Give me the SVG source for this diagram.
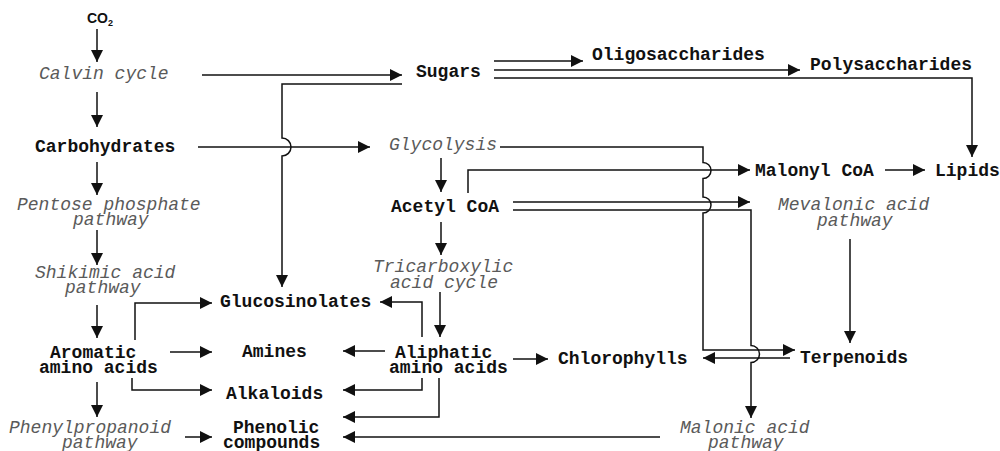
<svg xmlns="http://www.w3.org/2000/svg" width="1000" height="451" viewBox="0 0 1000 451">
<style>
.b{font-family:"Liberation Mono","Courier New",monospace;font-weight:bold;font-size:18px;fill:#111}
.i{font-family:"Liberation Mono","Courier New",monospace;font-style:italic;font-size:18px;fill:#5a5a5a}
.s{font-family:"Liberation Sans",Arial,sans-serif;font-weight:bold;font-size:14px;fill:#111}
.c path{fill:none;stroke:#111;stroke-width:1.5;marker-end:url(#ah)}
</style>
<defs>
<marker id="ah" markerUnits="userSpaceOnUse" markerWidth="13" markerHeight="12" refX="12" refY="6" orient="auto">
<path d="M0,0 L12,6 L0,12 z" fill="#111"/>
</marker>
</defs>
<rect width="1000" height="451" fill="#fff"/>
<g class="c" id="connectors">
<path d="M97,29 V62"/>
<path d="M97,92 V127"/>
<path d="M97,162 V195"/>
<path d="M97,230 V265"/>
<path d="M97,305 V338"/>
<path d="M97,382 V417"/>
<path d="M185,437 H212"/>
<path d="M135,340 V303 H212"/>
<path d="M170,352 H212"/>
<path d="M132,378 V390 H212"/>
<path d="M202,75 H402"/>
<path d="M402,84 H282 V138 A9,9 0 0 1 282,156 V287"/>
<path d="M198,147 H370"/>
<path d="M494,61 H583"/>
<path d="M494,70 H800"/>
<path d="M494,78 H972 V157"/>
<path d="M441,158 V192"/>
<path d="M500,147 H703 V162.5 A8,8 0 0 1 703,178.5 V197 A8,8 0 0 1 703,213 V350 H795"/>
<path d="M468,193 V170 H750"/>
<path d="M885,170 H925"/>
<path d="M513,202 H750"/>
<path d="M513,210 H751 V345.5 A8.5,8.5 0 0 1 751,362.5 V418"/>
<path d="M850,239 V343"/>
<path d="M790,358 H703"/>
<path d="M441,222 V255"/>
<path d="M440,292 V337"/>
<path d="M422,337 V302 H380"/>
<path d="M385,351 H343"/>
<path d="M513,359 H548"/>
<path d="M422,378 V390 H343"/>
<path d="M439,378 V417 H343"/>
<path d="M660,437 H343"/>
</g>
<g id="co2"><text class="s" x="87" y="23">CO<tspan font-size="9" dy="3">2</tspan></text></g>
<g id="calvin"><text class="i" x="39" y="79">Calvin cycle</text></g>
<g id="carbohydrates"><text class="b" x="35" y="152">Carbohydrates</text></g>
<g id="pentose"><text class="i"><tspan x="17" y="210">Pentose phosphate</tspan><tspan x="73" y="225">pathway</tspan></text></g>
<g id="shikimic"><text class="i"><tspan x="35" y="278">Shikimic acid</tspan><tspan x="65" y="293">pathway</tspan></text></g>
<g id="aromatic"><text class="b"><tspan x="50" y="358">Aromatic</tspan><tspan x="39" y="373">amino acids</tspan></text></g>
<g id="phenylpropanoid"><text class="i"><tspan x="9" y="433">Phenylpropanoid</tspan><tspan x="62" y="448">pathway</tspan></text></g>
<g id="glucosinolates"><text class="b" x="220" y="307">Glucosinolates</text></g>
<g id="amines"><text class="b" x="242" y="357">Amines</text></g>
<g id="alkaloids"><text class="b" x="226" y="399">Alkaloids</text></g>
<g id="phenolic"><text class="b"><tspan x="233" y="433">Phenolic</tspan><tspan x="223" y="448">compounds</tspan></text></g>
<g id="sugars"><text class="b" x="416" y="77">Sugars</text></g>
<g id="oligosaccharides"><text class="b" x="592" y="60">Oligosaccharides</text></g>
<g id="polysaccharides"><text class="b" x="810" y="70">Polysaccharides</text></g>
<g id="glycolysis"><text class="i" x="389" y="150">Glycolysis</text></g>
<g id="acetylcoa"><text class="b" x="391" y="212">Acetyl CoA</text></g>
<g id="malonylcoa"><text class="b" x="755" y="176">Malonyl CoA</text></g>
<g id="lipids"><text class="b" x="935" y="176">Lipids</text></g>
<g id="mevalonic"><text class="i"><tspan x="778" y="210">Mevalonic acid</tspan><tspan x="817" y="226">pathway</tspan></text></g>
<g id="tca"><text class="i"><tspan x="373" y="272">Tricarboxylic</tspan><tspan x="390" y="288">acid cycle</tspan></text></g>
<g id="aliphatic"><text class="b"><tspan x="395" y="358">Aliphatic</tspan><tspan x="389" y="373">amino acids</tspan></text></g>
<g id="chlorophylls"><text class="b" x="558" y="364">Chlorophylls</text></g>
<g id="terpenoids"><text class="b" x="800" y="363">Terpenoids</text></g>
<g id="malonic"><text class="i"><tspan x="680" y="433">Malonic acid</tspan><tspan x="708" y="448">pathway</tspan></text></g>
</svg>
